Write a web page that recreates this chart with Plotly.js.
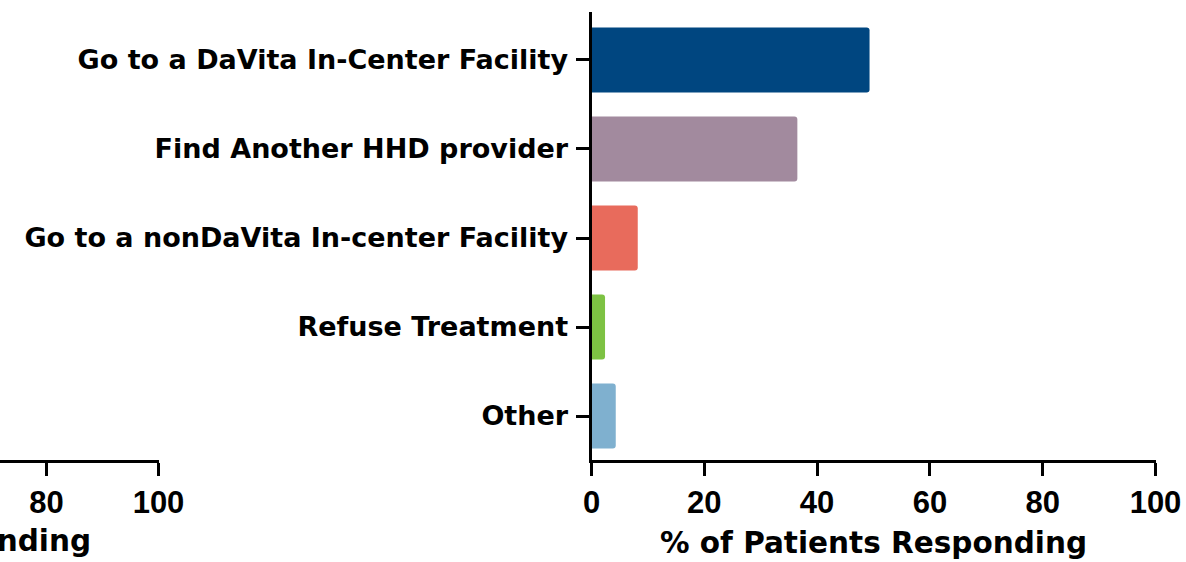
<!DOCTYPE html>
<html>
<head>
<meta charset="utf-8">
<script src="https://cdn.plot.ly/plotly-3.0.1.min.js"></script>
<style>html,body{margin:0;padding:0;background:#fff;}#chart{width:1186px;height:562px;}</style>
</head>
<body>
<div id="chart"></div>
<script>
const categories = [
  "Go to a DaVita In-Center Facility",
  "Find Another HHD provider",
  "Go to a nonDaVita In-center Facility",
  "Refuse Treatment",
  "Other"
];
const percentResponding = [49.3, 36.5, 8.2, 2.4, 4.3];
const barColors = ["#004680", "#A28A9E", "#E86B5C", "#7DC243", "#7FB0CF"];
const xTickValues = [0, 20, 40, 60, 80, 100];
const leftTickValues = [80, 100];
const xTitle = "% of Patients Responding";

const W = 1186, H = 562;
const FONT = "DejaVu Sans, Arial, sans-serif";
const NUMFONT = "Liberation Sans, Arial, sans-serif";
const yBottom = (H - 460) / H, yTop = (H - 12) / H;

const traces = [
  {
    type: "bar",
    orientation: "h",
    x: percentResponding,
    y: categories,
    marker: { color: barColors, cornerradius: 3, line: { width: 0 } },
    hoverinfo: "x+y",
    xaxis: "x",
    yaxis: "y"
  },
  {
    type: "scatter",
    mode: "markers",
    x: [],
    y: [],
    xaxis: "x2",
    yaxis: "y2",
    showlegend: false
  }
];

const labelFont = { family: FONT, size: 27, color: "#000", weight: "bold" };
const numFont = { family: NUMFONT, size: 31, color: "#000", weight: "bold" };
const titleFont = { family: FONT, size: 29.5, color: "#000", weight: "bold" };

const layout = {
  width: W,
  height: H,
  margin: { l: 0, r: 0, t: 0, b: 0 },
  paper_bgcolor: "#fff",
  plot_bgcolor: "#fff",
  showlegend: false,
  bargap: 0.27,
  font: { family: FONT, color: "#000" },
  xaxis: {
    domain: [591.5 / W, 1155.5 / W],
    range: [0, 100],
    tickvals: xTickValues,
    ticktext: xTickValues.map(String),
    showline: true,
    linecolor: "#000",
    linewidth: 3,
    ticks: "outside",
    ticklen: 13,
    tickwidth: 3,
    tickcolor: "#000",
    showgrid: false,
    zeroline: false,
    tickfont: numFont,
    automargin: false,
    anchor: "y",
    title: { text: xTitle, font: titleFont, standoff: 14 }
  },
  yaxis: {
    domain: [yBottom, yTop],
    type: "category",
    range: [4.494, -0.539],
    showline: true,
    linecolor: "#000",
    linewidth: 3,
    ticks: "outside",
    ticklen: 13,
    tickwidth: 3,
    tickcolor: "#000",
    showgrid: false,
    zeroline: false,
    tickfont: labelFont,
    automargin: false,
    anchor: "x",
    ticklabelstandoff: 2
  },
  xaxis2: {
    domain: [0, 158.5 / W],
    range: [100 - 158.5 / 5.6, 100],
    tickvals: leftTickValues,
    ticktext: leftTickValues.map(String),
    showline: true,
    linecolor: "#000",
    linewidth: 3,
    ticks: "outside",
    ticklen: 13,
    tickwidth: 3,
    tickcolor: "#000",
    showgrid: false,
    zeroline: false,
    tickfont: numFont,
    automargin: false,
    anchor: "y2"
  },
  yaxis2: {
    domain: [yBottom, yTop],
    range: [0, 1],
    visible: false,
    anchor: "x2"
  },
  annotations: [
    {
      xref: "paper", yref: "paper",
      x: 93 / W, y: (H - 541) / H,
      xanchor: "right", yanchor: "middle",
      text: xTitle,
      showarrow: false,
      font: titleFont
    }
  ]
};

Plotly.newPlot("chart", traces, layout, { displayModeBar: false, staticPlot: true });
</script>
</body>
</html>
